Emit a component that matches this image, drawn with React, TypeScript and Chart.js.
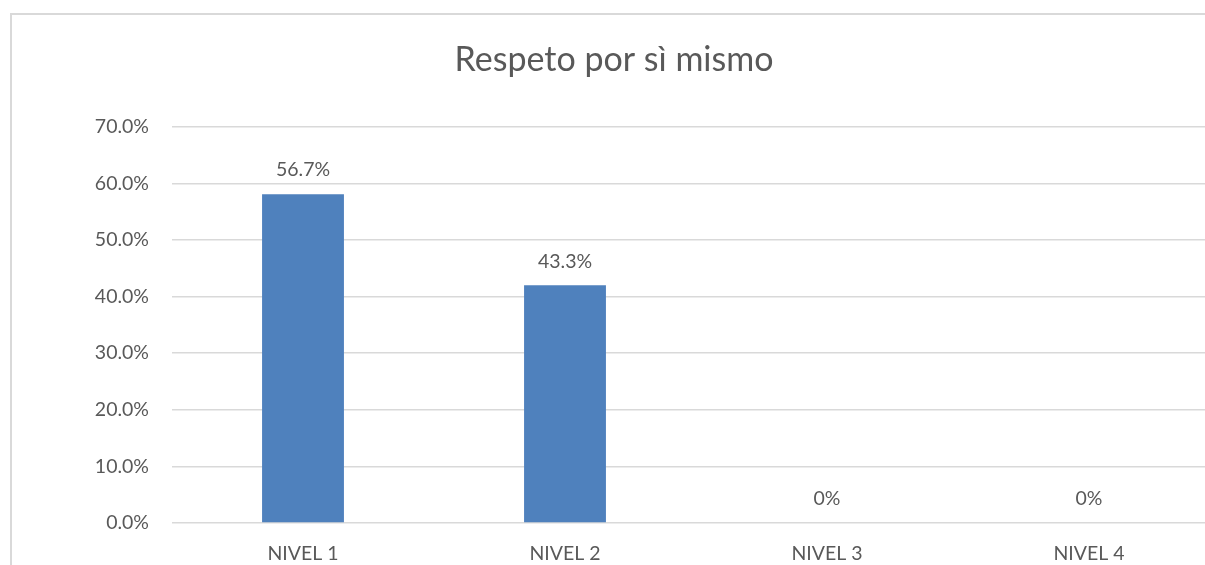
import React, { useEffect, useRef } from "react";
import { Chart, registerables } from "chart.js";

Chart.register(...registerables);

const categories = ["NIVEL 1", "NIVEL 2", "NIVEL 3", "NIVEL 4"];
const barValues = [58.1, 42.0, 0, 0];
const barLabels = ["56.7%", "43.3%", "0%", "0%"];
const yTicks = [0, 10, 20, 30, 40, 50, 60, 70];
const chartTitle = "Respeto por sì mismo";

const FONT = "Lato, 'Open Sans', sans-serif";
const TEXT = "#595959";
const GRID = "#d9d9d9";
const BAR = "#4f81bd";

const CANVAS_W = 1230;
const CANVAS_H = 580;
const PAD_LEFT = 8;
const PLOT_LEFT = 172;
const PLOT_RIGHT = 1220;
const PLOT_BOTTOM = 523;

const framePlugin = {
  id: "frame",
  beforeDraw(chart: any) {
    const ctx = chart.ctx;
    ctx.save();
    ctx.fillStyle = "#ffffff";
    ctx.fillRect(0, 0, chart.width, chart.height);
    ctx.strokeStyle = GRID;
    ctx.lineWidth = 2;
    ctx.beginPath();
    ctx.moveTo(11, chart.height);
    ctx.lineTo(11, 14);
    ctx.lineTo(chart.width, 14);
    ctx.stroke();
    ctx.restore();
  },
};

const dataLabelPlugin = {
  id: "dataLabels",
  afterDatasetsDraw(chart: any) {
    const ctx = chart.ctx;
    const meta = chart.getDatasetMeta(0);
    ctx.save();
    ctx.font = `19.5px ${FONT}`;
    ctx.fillStyle = TEXT;
    ctx.textAlign = "center";
    ctx.textBaseline = "middle";
    meta.data.forEach((bar: any, i: number) => {
      ctx.fillText(barLabels[i], bar.x, bar.y - 24);
    });
    ctx.restore();
  },
};

export default function App() {
  const ref = useRef<HTMLCanvasElement | null>(null);

  useEffect(() => {
    if (!ref.current) return;
    const chart = new Chart(ref.current, {
      type: "bar",
      data: {
        labels: categories,
        datasets: [
          {
            data: barValues,
            backgroundColor: BAR,
            borderWidth: 0,
            barPercentage: 0.625,
            categoryPercentage: 0.5,
          },
        ],
      },
      options: {
        responsive: false,
        animation: false,
        devicePixelRatio: 1,
        layout: { padding: { left: PAD_LEFT, right: CANVAS_W - PLOT_RIGHT, top: 0, bottom: 0 } },
        plugins: {
          legend: { display: false },
          tooltip: { enabled: false },
          title: {
            display: true,
            text: chartTitle,
            color: TEXT,
            font: { family: FONT, size: 34, weight: "normal" },
            padding: { top: 40, bottom: 46 },
          },
        },
        scales: {
          x: {
            grid: { display: false, drawTicks: false },
            border: { display: false },
            ticks: {
              color: TEXT,
              font: { family: FONT, size: 19.5 },
              padding: 19,
              maxRotation: 0,
            },
            afterFit(scale: any) {
              scale.height = CANVAS_H - PLOT_BOTTOM;
            },
          },
          y: {
            min: 0,
            max: 70,
            afterBuildTicks(scale: any) {
              scale.ticks = yTicks.map((v) => ({ value: v }));
            },
            grid: { color: GRID, lineWidth: 1.5, drawTicks: false },
            border: { display: false },
            ticks: {
              color: TEXT,
              font: { family: FONT, size: 19.5 },
              padding: 23,
              callback: (v: any) => Number(v).toFixed(1) + "%",
            },
            afterFit(scale: any) {
              scale.width = PLOT_LEFT - PAD_LEFT;
            },
          },
        },
      },
      plugins: [framePlugin, dataLabelPlugin],
    });
    return () => chart.destroy();
  }, []);

  return (
    <div
      style={{
        position: "absolute",
        left: 0,
        top: 0,
        width: 1205,
        height: 565,
        overflow: "hidden",
        background: "#fff",
      }}
    >
      <canvas
        ref={ref}
        width={CANVAS_W}
        height={CANVAS_H}
        style={{ position: "absolute", left: 0, top: 0, display: "block" }}
      />
    </div>
  );
}
